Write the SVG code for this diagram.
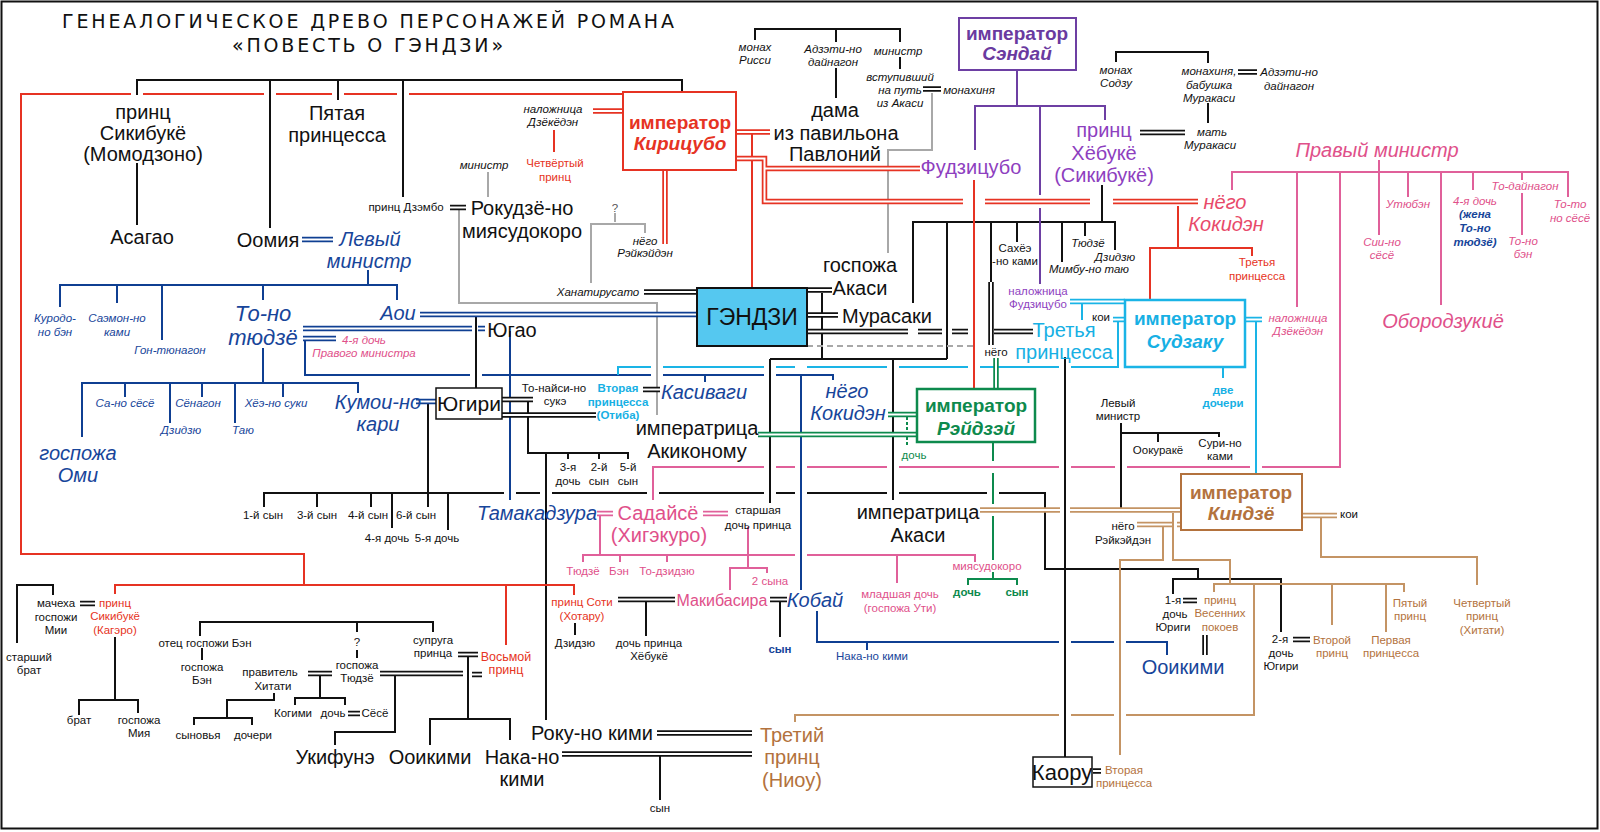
<svg xmlns="http://www.w3.org/2000/svg" xmlns:xlink="http://www.w3.org/1999/xlink" width="1600" height="832" viewBox="0 0 1600 832">
<style>
.t{font-family:"Liberation Sans",Arial,sans-serif;text-anchor:middle}
.L{font-size:20px}.S{font-size:11.5px}.M{font-size:12.5px}.X{font-size:22px}.bx{font-size:19px;font-weight:bold}
.i{font-style:italic}.b{font-weight:bold}
.k{fill:#111}.red{fill:#e63323}.blu{fill:#17459a}.pnk{fill:#e0508a}.cy{fill:#17b0e4}.pur{fill:#8e3fbf}.vio{fill:#6a3aa0}.grn{fill:#0d8a4d}.brn{fill:#b3723d}.gry{fill:#555}.kok{fill:#e84a6a}
.ln{fill:none;stroke-width:2}
.sk{stroke:#111}.sr{stroke:#e63323}.sb{stroke:#0f3f92}.sp{stroke:#e0609a}.sc{stroke:#1ab4e6}.sv{stroke:#6d3fa3}.sg{stroke:#0d8a4d}.sn{stroke:#c49464}.sy{stroke:#a8a8a8}
.title{font-family:"DejaVu Sans",sans-serif;font-size:19px;fill:#111}
</style>
<defs>
<path id="dK" d="M450,207.5H466M644,292H697M923,89H941M1140,132.5H1185M1238,72H1257M807,290H832M807,315H838M807,331.5H908M918,331.5H942M952,331.5H968M994,331.5H1033M502,399.5H533M502,415H596M643,389.5H660M657,733H752M562,754H752M1093,771H1101M1183,600.5H1197M1293,639.5H1310M1205,635V655M80,603.5H95M308,673.5H332M348,713.5H360M380,673.5H463M472,674.5H482M458,654.5H478M618,599.5H675M770,599.5H787M991,282V345"/>
<path id="dR" d="M593,111H623M665,170V244M736,132H770M736,158.5H764.5V201.5H963M985,201.5H1090M1113,201.5H1198M764.5,168.5H920"/>
<path id="dB" d="M302,239.5H333M420,314.5H697M303,328.5H472M478,328.5H485M303,338.5H336M416,401.5H436"/>
<path id="dP" d="M597,513.5H613M703,513.5H728"/>
<path id="dC" d="M1245,319.5H1262M1070,301.5H1125M1113,319.5H1125"/>
<path id="dG" d="M996,358V389M888,414.5H917M758,434.5H917"/>
<path id="dN" d="M980,510H1060M1070,510H1181M1302,515.5H1337M1137,524.5H1172M1177,524.5H1182"/>
</defs>
<rect x="1.5" y="1.5" width="1596" height="827" fill="#fff" stroke="#111" stroke-width="2"/>
<g id="title">
<text class="title" x="62" y="28" textLength="612" lengthAdjust="spacing">ГЕНЕАЛОГИЧЕСКОЕ ДРЕВО ПЕРСОНАЖЕЙ РОМАНА</text>
<text class="title" x="232" y="52" textLength="271" lengthAdjust="spacing">«ПОВЕСТЬ О ГЭНДЗИ»</text>
</g>
<g id="connectors">
<path class="ln sk" d="M137,95V80H682V92M270,80V228M338,80V100M403,80V197M137,163V225M755,40V29H900V42M836,29V42M836,68V98M900,57V69M1116,62V52H1208V63M1208,103V123M1102,185V222M913,303V222H1115V250M947,222V359M991,222V282M1017,222V242M1062,222V262M1085,222V236M822,293V359M770,359H947M893,359V500M770,359V503M476,317V388M428,404V507M264,507V493H504M516,493H540M552,493H647M659,493H764M776,493H795M807,493H887M899,493H987M999,493H1045V569H1198V579M317,493V507M371,493V507M392,493V528M448,493V530M1173,594V579H1281V632M528,401V453H628V459M568,453V459M599,453V459M546,453V720M660,756V800M1065,357V757M1121,423V512M1121,433H1219V437M1158,433V442M17,643V585H53V595M115,637V700M79,715V700H138V713M200,636V622H433V632M357,622V632M357,650V658M202,648V660M320,675V698M295,705V698H345V705M274,693V700H227V718M194,725V718H252V725M468,656V719M430,745V719H510V740M335,745V732H395V675M575,623V635M646,601V636M780,602V637"/>
<path class="ln sy" d="M488,172V197M459,210V303H657V415M615,213V222M591,283V224H645V233M932,93V150H888V253"/>
<path class="ln sy" stroke-dasharray="6,4" d="M807,346H973"/>
<path class="ln sr" stroke-width="2.5" d="M623,94H409M397,94H344M332,94H276M264,94H143M131,94H21V554H304V585M115,594V585H574V595M506,585V645M554,130V152M752,134V288M974,180V389M1178,206V248M1150,300V248H1252V256"/>
<path class="ln sp" d="M1379,160V235M1232,190V172H1568V197M1297,172V307M1340,172V467H1262M1250,467H1127M1115,467H1071M1059,467H899M887,467H807M795,467H776M764,467H653V500M1408,172V197M1441,172V305M1473,172V190M1522,172V180M1522,193V235M600,516V555M583,562V555H795M807,555H975V562M620,555V562M667,555V562M748,527V568M730,590V568H767V573M897,555V583"/>
<path class="ln sb" d="M368,270V285M60,307V285H397V300M117,285V303M162,285V340M263,285V300M305,340V375H470M482,375H651M663,375H764M776,375H833V380M705,375V382M801,375V590M510,331V500M263,348V383M82,437V383H358V393M125,383V397M170,383V423M202,383V397M235,383V423M283,383V397M817,611V642H1059M1071,642H1114M1126,642H1167V655M867,642V650"/>
<path class="ln sc" stroke-width="2.5" d="M1256,321V474M1223,367V378M1082,303V320M1118,321V367H1071M1059,367H980M968,367H899M887,367H807M795,367H776M764,367H663M651,367H618V375"/>
<path class="ln sv" d="M1017,70V106M975,150V106H1105V120M1040,106V195M1040,208V284"/>
<path class="ln sg" stroke-width="4" d="M993,442V461M993,473V504M993,516V560M993,572V579"/>
<path class="ln sg" d="M968,585V579H1017V585"/>
<path class="ln sg" stroke-width="1.5" stroke-dasharray="3,2" d="M907,417V446"/>
<path class="ln sn" d="M1321,518V557H1477V585M1163,527V560H1120V755M1173,513V560H1230V584M1214,592V584H1404V592M1332,584V625M1386,584V632M1254,584V715H1126M1114,715H1071M1059,715H795V722"/>
<use xlink:href="#dK" fill="none" stroke="#111" stroke-width="5.5"/><use xlink:href="#dK" fill="none" stroke="#fff" stroke-width="2"/>
<use xlink:href="#dR" fill="none" stroke="#e63323" stroke-width="5.5"/><use xlink:href="#dR" fill="none" stroke="#fff" stroke-width="2"/>
<use xlink:href="#dB" fill="none" stroke="#0f3f92" stroke-width="5.5"/><use xlink:href="#dB" fill="none" stroke="#fff" stroke-width="2"/>
<use xlink:href="#dP" fill="none" stroke="#e0609a" stroke-width="5.5"/><use xlink:href="#dP" fill="none" stroke="#fff" stroke-width="2"/>
<use xlink:href="#dC" fill="none" stroke="#1ab4e6" stroke-width="5.5"/><use xlink:href="#dC" fill="none" stroke="#fff" stroke-width="2"/>
<use xlink:href="#dG" fill="none" stroke="#0d8a4d" stroke-width="5.5"/><use xlink:href="#dG" fill="none" stroke="#fff" stroke-width="2"/>
<use xlink:href="#dN" fill="none" stroke="#c49464" stroke-width="5.5"/><use xlink:href="#dN" fill="none" stroke="#fff" stroke-width="2"/>
</g>
<g id="n-sikibukyo-momo" class="t L k"><text x="143" y="119">принц</text><text x="143" y="140">Сикибукё</text><text x="143" y="161">(Момодзоно)</text></g>
<g id="n-asagao" class="t L k"><text x="142" y="244">Асагао</text></g>
<g id="n-pyataya" class="t L k"><text x="337" y="120">Пятая</text><text x="337" y="142">принцесса</text></g>
<g id="n-oomiya" class="t L k"><text x="268" y="247">Оомия</text></g>
<g id="n-left-minister" class="t L i blu"><text x="370" y="246">Левый</text><text x="369" y="268">министр</text></g>
<g id="n-dzembo" class="t S k"><text x="406" y="211">принц Дзэмбо</text></g>
<g id="n-rokujo" class="t L k"><text x="522" y="215">Рокудзё-но</text><text x="522" y="238">миясудокоро</text></g>
<g id="n-ministr1" class="t S i k"><text x="484" y="169">министр</text></g>
<g id="n-dzekyoden1" class="t S i k"><text x="553" y="113">наложница</text><text x="553" y="126">Дзёкёдэн</text></g>
<g id="n-fourth-prince" class="t S red"><text x="555" y="167">Четвёртый</text><text x="555" y="181">принц</text></g>
<g id="n-q1" class="t S gry"><text x="615" y="212">?</text></g>
<g id="n-reikeiden1" class="t S i k"><text x="645" y="245">нёго</text><text x="645" y="257">Рэйкэйдэн</text></g>
<g id="n-hanachirusato" class="t S i k"><text x="598" y="296">Ханатирусато</text></g>
<g id="n-kiritsubo"><rect x="623" y="92" width="113" height="78" fill="#fff" stroke="#e63323" stroke-width="2"/><text class="t bx red" x="680" y="129">император</text><text class="t bx i red" x="680" y="150">Кирицубо</text></g>
<g id="n-risshi" class="t S i k"><text x="755" y="51">монах</text><text x="755" y="64">Рисси</text></g>
<g id="n-adzeti1" class="t S i k"><text x="833" y="53">Адзэти-но</text><text x="833" y="66">дайнагон</text></g>
<g id="n-ministr2" class="t S i k"><text x="898" y="55">министр</text></g>
<g id="n-akashi-monk" class="t S i k"><text x="900" y="81">вступивший</text><text x="900" y="94">на путь</text><text x="900" y="107">из Акаси</text></g>
<g id="n-monahinya" class="t S i k"><text x="969" y="94">монахиня</text></g>
<g id="n-dama" class="t L k"><text x="835" y="117">дама</text><text x="836" y="140">из павильона</text><text x="835" y="161">Павлоний</text></g>
<g id="n-sendai"><rect x="959" y="18" width="117" height="52" fill="#fff" stroke="#6d3fa3" stroke-width="2"/><text class="t bx vio" x="1017" y="40">император</text><text class="t bx i vio" x="1017" y="60">Сэндай</text></g>
<g id="n-fujitsubo" class="t L pur"><text x="971" y="174">Фудзицубо</text></g>
<g id="n-hyobukyo" class="t L pur"><text x="1104" y="137">принц</text><text x="1104" y="160">Хёбукё</text><text x="1104" y="182">(Сикибукё)</text></g>
<g id="n-sodzu" class="t S i k"><text x="1116" y="74">монах</text><text x="1116" y="87">Содзу</text></g>
<g id="n-babushka" class="t S i k"><text x="1209" y="75">монахиня,</text><text x="1209" y="89">бабушка</text><text x="1209" y="102">Муракаси</text></g>
<g id="n-adzeti2" class="t S i k"><text x="1289" y="76">Адзэти-но</text><text x="1289" y="90">дайнагон</text></g>
<g id="n-mat" class="t S i k"><text x="1212" y="136">мать</text><text x="1210" y="149">Муракаси</text></g>
<g id="n-right-minister" class="t L i pnk"><text x="1377" y="157">Правый министр</text></g>
<g id="n-kokiden-r" class="t L i kok"><text x="1225" y="209">нёго</text><text x="1226" y="231">Кокидэн</text></g>
<g id="n-third-pr-red" class="t S red"><text x="1257" y="266">Третья</text><text x="1257" y="280">принцесса</text></g>
<g id="n-utyuben" class="t S i pnk"><text x="1408" y="208">Утюбэн</text></g>
<g id="n-sii" class="t S i pnk"><text x="1382" y="246">Сии-но</text><text x="1382" y="259">сёсё</text></g>
<g id="n-fourth-d" class="t S i"><text class="pnk" x="1475" y="205">4-я дочь</text><text class="blu b" x="1475" y="218">(жена</text><text class="blu b" x="1475" y="232">То-но</text><text class="blu b" x="1475" y="246">тюдзё)</text></g>
<g id="n-todainagon" class="t S i pnk"><text x="1525" y="190">То-дайнагон</text></g>
<g id="n-tonoben" class="t S i pnk"><text x="1523" y="245">То-но</text><text x="1523" y="258">бэн</text></g>
<g id="n-toto" class="t S i pnk"><text x="1570" y="208">То-то</text><text x="1570" y="222">но сёсё</text></g>
<g id="n-oboro" class="t L i pnk"><text x="1443" y="328">Обородзукиё</text></g>
<g id="n-dzekyoden2" class="t S i pnk"><text x="1298" y="322">наложница</text><text x="1298" y="335">Дзёкёдэн</text></g>
<g id="n-suzaku"><rect x="1125" y="300" width="120" height="67" fill="#fff" stroke="#1ab4e6" stroke-width="2.5"/><text class="t bx cy" x="1185" y="325">император</text><text class="t bx i cy" x="1185" y="348">Судзаку</text></g>
<g id="n-dve" class="t S b cy"><text x="1223" y="394">две</text><text x="1223" y="407">дочери</text></g>
<g id="n-third-pr" class="t L cy"><text x="1064" y="337">Третья</text><text x="1064" y="359">принцесса</text></g>
<g id="n-koi1" class="t S k"><text x="1101" y="321">кои</text></g>
<g id="n-nalozh-f" class="t S pur"><text x="1038" y="295">наложница</text><text x="1038" y="308">Фудзицубо</text></g>
<g id="n-sahee" class="t S k"><text x="1015" y="252">Сахёэ</text><text x="1015" y="265">-но ками</text></g>
<g id="n-tyudze-h" class="t S i k"><text x="1088" y="247">Тюдзё</text></g>
<g id="n-dzidzyu-h" class="t S i k"><text x="1115" y="261">Дзидзю</text></g>
<g id="n-mimbu" class="t S i k"><text x="1089" y="273">Мимбу-но таю</text></g>
<g id="n-akashi-lady" class="t L k"><text x="860" y="272">госпожа</text><text x="860" y="295">Акаси</text></g>
<g id="n-murasaki" class="t L k"><text x="887" y="323">Мурасаки</text></g>
<g id="n-genji"><rect x="697" y="288" width="110" height="58" fill="#55c8f0" stroke="#111" stroke-width="2"/><text class="t k" style="font-size:23px" x="752" y="325">ГЭНДЗИ</text></g>
<g id="n-nego" class="t S k"><text x="996" y="356">нёго</text></g>
<g id="n-reizei"><rect x="917" y="389" width="118" height="53" fill="#fff" stroke="#0d8a4d" stroke-width="2.5"/><text class="t bx grn" x="976" y="412">император</text><text class="t bx i grn" x="976" y="435">Рэйдзэй</text></g>
<g id="n-doch-g1" class="t S grn"><text x="914" y="459">дочь</text></g>
<g id="n-kokiden-b" class="t L i blu"><text x="847" y="398">нёго</text><text x="848" y="420">Кокидэн</text></g>
<g id="n-kasiwagi" class="t L i blu"><text x="704" y="399">Касиваги</text></g>
<g id="n-otiba" class="t S b cy"><text x="618" y="392">Вторая</text><text x="618" y="406">принцесса</text><text x="618" y="419">(Отиба)</text></g>
<g id="n-akikonomu" class="t L k"><text x="697" y="435">императрица</text><text x="697" y="458">Акиконому</text></g>
<g id="n-tonaishi" class="t S k"><text x="554" y="392">То-найси-но</text><text x="555" y="405">сукэ</text></g>
<g id="n-yugiri"><rect x="436" y="388" width="66" height="31" fill="#fff" stroke="#111" stroke-width="1.5"/><text class="t k" style="font-size:21px" x="469" y="411">Югири</text></g>
<g id="n-yugao" class="t L k"><text x="512" y="337">Югао</text></g>
<g id="n-aoi" class="t L i blu"><text x="398" y="320">Аои</text></g>
<g id="n-tonotyudze" class="t X i blu"><text x="263" y="321">То-но</text><text x="263" y="345">тюдзё</text></g>
<g id="n-kurodo" class="t S i blu"><text x="55" y="322">Куродо-</text><text x="55" y="336">но бэн</text></g>
<g id="n-saemon" class="t S i blu"><text x="117" y="322">Саэмон-но</text><text x="117" y="336">ками</text></g>
<g id="n-gon" class="t S i blu"><text x="170" y="354">Гон-тюнагон</text></g>
<g id="n-fourth-rm" class="t S i pnk"><text x="364" y="344">4-я дочь</text><text x="364" y="357">Правого министра</text></g>
<g id="n-sano" class="t S i blu"><text x="125" y="407">Са-но сёсё</text></g>
<g id="n-senagon" class="t S i blu"><text x="198" y="407">Сёнагон</text></g>
<g id="n-hee" class="t S i blu"><text x="276" y="407">Хёэ-но суки</text></g>
<g id="n-dzidzyu-b" class="t S i blu"><text x="181" y="434">Дзидзю</text></g>
<g id="n-tayu" class="t S i blu"><text x="243" y="434">Таю</text></g>
<g id="n-omi" class="t L i blu"><text x="78" y="460">госпожа</text><text x="78" y="482">Оми</text></g>
<g id="n-kumoi" class="t L i blu"><text x="378" y="409">Кумои-но</text><text x="378" y="431">кари</text></g>
<g id="n-yugiri-children" class="t S k"><text x="263" y="519">1-й сын</text><text x="317" y="519">3-й сын</text><text x="368" y="519">4-й сын</text><text x="416" y="519">6-й сын</text><text x="387" y="542">4-я дочь</text><text x="437" y="542">5-я дочь</text></g>
<g id="n-tonaishi-children" class="t S k"><text x="568" y="471">3-я</text><text x="568" y="485">дочь</text><text x="599" y="471">2-й</text><text x="599" y="485">сын</text><text x="628" y="471">5-й</text><text x="628" y="485">сын</text></g>
<g id="n-tamakadzura" class="t L i blu"><text x="537" y="520">Тамакадзура</text></g>
<g id="n-higekuro" class="t L pnk"><text x="658" y="520">Садайсё</text><text x="659" y="542">(Хигэкуро)</text></g>
<g id="n-starshaya" class="t S k"><text x="758" y="514">старшая</text><text x="758" y="529">дочь принца</text></g>
<g id="n-tama-children" class="t S pnk"><text x="583" y="575">Тюдзё</text><text x="619" y="575">Бэн</text><text x="667" y="575">То-дзидзю</text></g>
<g id="n-dva-syna" class="t S pnk"><text x="770" y="585">2 сына</text></g>
<g id="n-makibasira" class="t pnk" style="font-size:16px"><text x="722" y="606">Макибасира</text></g>
<g id="n-kobai" class="t L i blu"><text x="815" y="607">Кобай</text></g>
<g id="n-son-blue" class="t S b blu"><text x="780" y="653">сын</text></g>
<g id="n-sochi" class="t S red"><text x="582" y="606">принц Соти</text><text x="582" y="620">(Хотару)</text></g>
<g id="n-dzidzyu-k" class="t S k"><text x="575" y="647">Дзидзю</text></g>
<g id="n-doch-heb" class="t S k"><text x="649" y="647">дочь принца</text><text x="649" y="660">Хёбукё</text></g>
<g id="n-younger" class="t S pnk"><text x="900" y="598">младшая дочь</text><text x="900" y="612">(госпожа Ути)</text></g>
<g id="n-miyasud2" class="t S pnk"><text x="987" y="570">миясудокоро</text></g>
<g id="n-reizei-children" class="t S b grn"><text x="967" y="596">дочь</text><text x="1017" y="596">сын</text></g>
<g id="n-naka-blue" class="t S blu"><text x="872" y="660">Нака-но кими</text></g>
<g id="n-ooikimi-b" class="t L blu"><text x="1183" y="674">Ооикими</text></g>
<g id="n-akashi-emp" class="t L k"><text x="918" y="519">императрица</text><text x="918" y="542">Акаси</text></g>
<g id="n-left-min2" class="t S k"><text x="1118" y="407">Левый</text><text x="1118" y="420">министр</text></g>
<g id="n-ookurake" class="t S k"><text x="1158" y="454">Оокуракё</text></g>
<g id="n-suri" class="t S k"><text x="1220" y="447">Сури-но</text><text x="1220" y="460">ками</text></g>
<g id="n-kinjo"><rect x="1181" y="474" width="121" height="56" fill="#fff" stroke="#b3723d" stroke-width="2"/><text class="t bx brn" x="1241" y="499">император</text><text class="t bx i brn" x="1241" y="520">Киндзё</text></g>
<g id="n-koi2" class="t S k"><text x="1349" y="518">кои</text></g>
<g id="n-reikeiden2" class="t S k"><text x="1123" y="530">нёго</text><text x="1123" y="544">Рэйкэйдэн</text></g>
<g id="n-first-d" class="t S k"><text x="1173" y="604">1-я</text><text x="1175" y="618">дочь</text><text x="1173" y="631">Юриги</text></g>
<g id="n-spring" class="t S brn"><text x="1220" y="604">принц</text><text x="1220" y="617">Весенних</text><text x="1220" y="631">покоев</text></g>
<g id="n-second-d" class="t S k"><text x="1280" y="643">2-я</text><text x="1281" y="657">дочь</text><text x="1281" y="670">Югири</text></g>
<g id="n-second-pr" class="t S brn"><text x="1332" y="644">Второй</text><text x="1332" y="657">принц</text></g>
<g id="n-first-prs" class="t S brn"><text x="1391" y="644">Первая</text><text x="1391" y="657">принцесса</text></g>
<g id="n-fifth" class="t S brn"><text x="1410" y="607">Пятый</text><text x="1410" y="620">принц</text></g>
<g id="n-fourth-h" class="t S brn"><text x="1482" y="607">Четвертый</text><text x="1482" y="620">принц</text><text x="1482" y="634">(Хитати)</text></g>
<g id="n-kaoru"><rect x="1033" y="757" width="59" height="30" fill="#fff" stroke="#111" stroke-width="1.5"/><text class="t X k" x="1062" y="780">Каору</text></g>
<g id="n-vtoraya-br" class="t S brn"><text x="1124" y="774">Вторая</text><text x="1124" y="787">принцесса</text></g>
<g id="n-third-prince" class="t L brn"><text x="792" y="742">Третий</text><text x="792" y="764">принц</text><text x="792" y="787">(Ниоу)</text></g>
<g id="n-roku" class="t L k"><text x="592" y="740">Року-но кими</text></g>
<g id="n-naka" class="t L k"><text x="522" y="764">Нака-но</text><text x="522" y="786">кими</text></g>
<g id="n-ooikimi-k" class="t L k"><text x="430" y="764">Ооикими</text></g>
<g id="n-ukifune" class="t L k"><text x="335" y="764">Укифунэ</text></g>
<g id="n-syn-k" class="t S k"><text x="660" y="812">сын</text></g>
<g id="n-eighth" class="t M red"><text x="506" y="661">Восьмой</text><text x="506" y="674">принц</text></g>
<g id="n-supruga" class="t S k"><text x="433" y="644">супруга</text><text x="433" y="657">принца</text></g>
<g id="n-tyudze-lady" class="t S k"><text x="357" y="646">?</text><text x="357" y="669">госпожа</text><text x="357" y="682">Тюдзё</text></g>
<g id="n-otec-ben" class="t S k"><text x="205" y="647">отец госпожи Бэн</text></g>
<g id="n-ben" class="t S k"><text x="202" y="671">госпожа</text><text x="202" y="684">Бэн</text></g>
<g id="n-hitati" class="t S k"><text x="270" y="676">правитель</text><text x="273" y="690">Хитати</text></g>
<g id="n-hitati-children" class="t S k"><text x="293" y="717">Когими</text><text x="333" y="717">дочь</text><text x="375" y="717">Сёсё</text><text x="198" y="739">сыновья</text><text x="253" y="739">дочери</text></g>
<g id="n-machekha" class="t S k"><text x="56" y="607">мачеха</text><text x="56" y="621">госпожи</text><text x="56" y="634">Мии</text></g>
<g id="n-kagero" class="t S red"><text x="115" y="607">принц</text><text x="115" y="620">Сикибукё</text><text x="115" y="634">(Кагэро)</text></g>
<g id="n-starshiy" class="t S k"><text x="29" y="661">старший</text><text x="29" y="674">брат</text></g>
<g id="n-kagero-children" class="t S k"><text x="79" y="724">брат</text><text x="139" y="724">госпожа</text><text x="139" y="737">Мия</text></g>
</svg>
